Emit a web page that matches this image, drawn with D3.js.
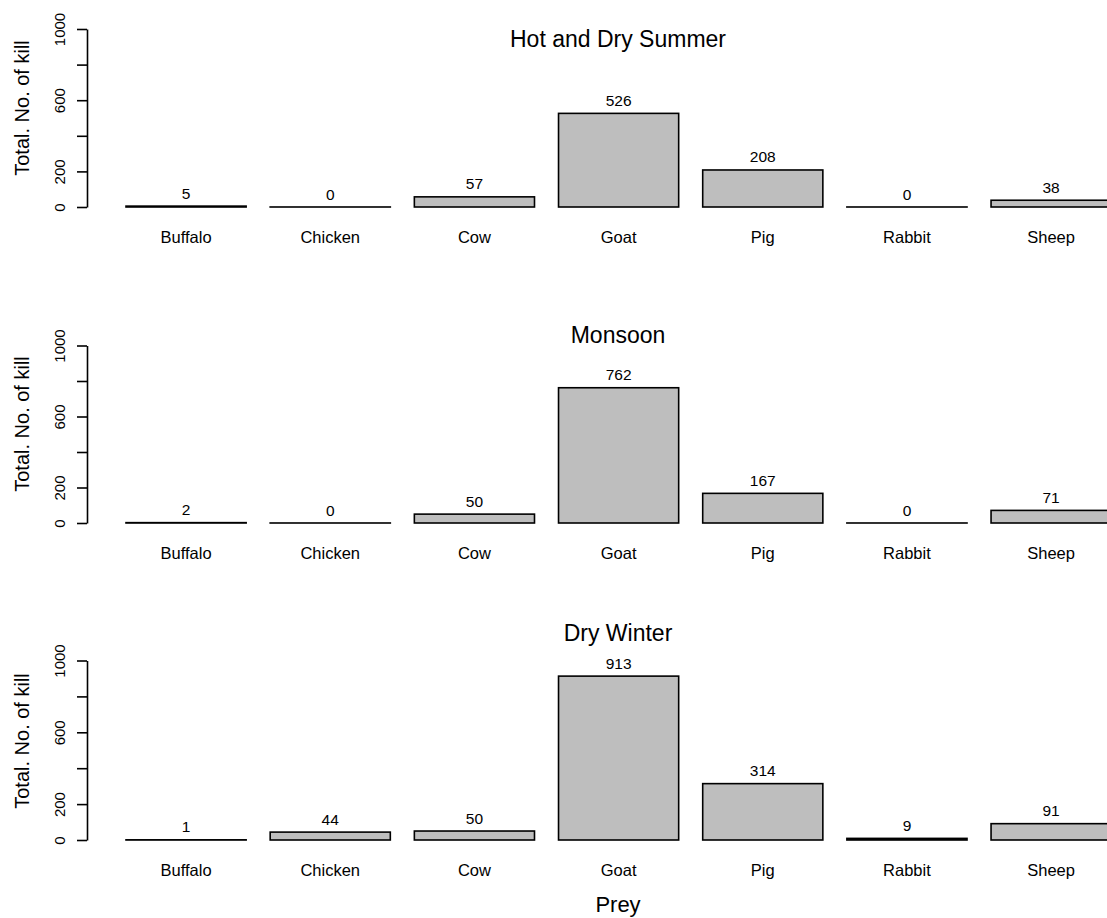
<!DOCTYPE html>
<html>
<head>
<meta charset="utf-8">
<script src="https://cdn.jsdelivr.net/npm/d3@7/dist/d3.min.js"></script>
<style>
  html, body { margin: 0; padding: 0; background: #fff; }
  svg { display: block; }
  text { font-family: "Liberation Sans", Arial, sans-serif; fill: #000; }
</style>
</head>
<body>
<svg id="chart" width="1107" height="918"></svg>
<script>
// ---- data ----
const categories = ["Buffalo", "Chicken", "Cow", "Goat", "Pig", "Rabbit", "Sheep"];
const seasons = ["Hot and Dry Summer", "Monsoon", "Dry Winter"];
const summerKills = [5, 0, 57, 526, 208, 0, 38];
const monsoonKills = [2, 0, 50, 762, 167, 0, 71];
const winterKills = [1, 44, 50, 913, 314, 9, 91];
const yTicks = [0, 200, 400, 600, 800, 1000];
const yTickLabels = [0, 200, 600, 1000];
const yLabel = "Total. No. of kill";
const xLabel = "Prey";

const seriesList = [summerKills, monsoonKills, winterKills];

// ---- layout ----
const axisX = 87;
const panelBase = [207, 523, 840];       // pixel y of value 0
const panelHeight = [178, 177.5, 179.5]; // pixel span of 0..1000
const titleY = [47, 343, 641];

const svg = d3.select("#chart");

const x = d3.scaleBand()
  .domain(categories)
  .range([126, 1111.2])
  .paddingInner(24.03 / 144.17)
  .paddingOuter(0);

seriesList.forEach((values, p) => {
  const y0 = panelBase[p];
  const y = d3.scaleLinear().domain([0, 1000]).range([y0, y0 - panelHeight[p]]);
  const g = svg.append("g");

  // bars (zero-height bars still show their outline, as in R)
  g.selectAll("rect.bar")
    .data(values)
    .join("rect")
    .attr("class", "bar")
    .attr("x", (d, i) => x(categories[i]))
    .attr("width", x.bandwidth())
    .attr("y", d => Math.min(y(d), y(0) - 0.01))
    .attr("height", d => Math.max(y(0) - y(d), 0.01))
    .attr("fill", "#bebebe")
    .attr("stroke", "#000")
    .attr("stroke-width", 1.6);

  // value labels
  g.selectAll("text.val")
    .data(values)
    .join("text")
    .attr("class", "val")
    .attr("x", (d, i) => x(categories[i]) + x.bandwidth() / 2)
    .attr("y", d => y(d) - 7.5)
    .attr("text-anchor", "middle")
    .style("font-size", "15.5px")
    .text(d => d);

  // category labels
  g.selectAll("text.cat")
    .data(categories)
    .join("text")
    .attr("class", "cat")
    .attr("x", d => x(d) + x.bandwidth() / 2)
    .attr("y", y0 + 35.5)
    .attr("text-anchor", "middle")
    .style("font-size", "16.5px")
    .text(d => d);

  // y axis
  const axis = d3.axisLeft(y)
    .tickValues(yTicks)
    .tickSize(10)
    .tickSizeOuter(0)
    .tickFormat(d => yTickLabels.includes(d) ? d : "");
  const ag = g.append("g")
    .attr("transform", `translate(${axisX},0)`)
    .call(axis);
  ag.select(".domain").attr("stroke", "#000").attr("stroke-width", 1.6);
  ag.selectAll(".tick line").attr("stroke", "#000").attr("stroke-width", 1.6);
  ag.selectAll(".tick text")
    .attr("transform", "rotate(-90)")
    .attr("x", 0)
    .attr("y", -22)
    .attr("dy", null)
    .attr("text-anchor", "middle")
    .attr("fill", "#000")
    .style("font-family", "'Liberation Sans', Arial, sans-serif")
    .style("font-size", "15px");

  // y label
  g.append("text")
    .attr("transform", `translate(29,${y0 - 99}) rotate(-90)`)
    .attr("text-anchor", "middle")
    .style("font-size", "20px")
    .text(yLabel);

  // title
  g.append("text")
    .attr("x", 618)
    .attr("y", titleY[p])
    .attr("text-anchor", "middle")
    .style("font-size", "23px")
    .text(seasons[p]);
});

// x label
svg.append("text")
  .attr("x", 618)
  .attr("y", 912)
  .attr("text-anchor", "middle")
  .style("font-size", "22px")
  .text(xLabel);
</script>
</body>
</html>
